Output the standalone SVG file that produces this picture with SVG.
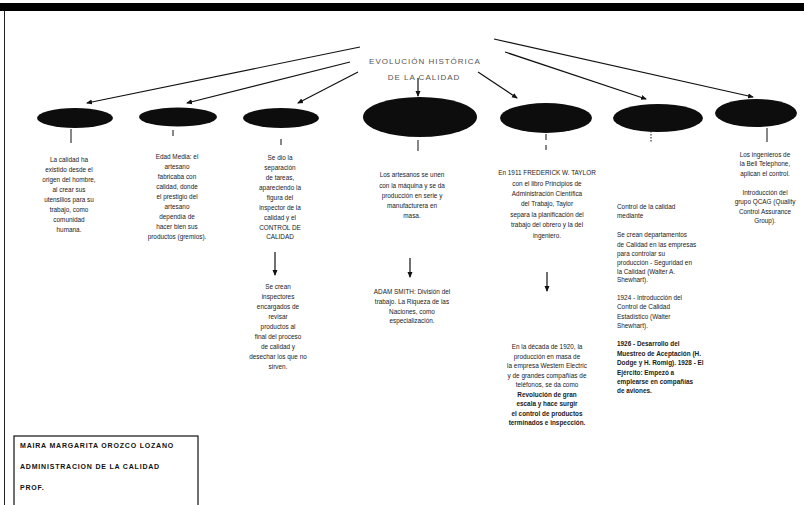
<svg xmlns="http://www.w3.org/2000/svg" width="804" height="505" viewBox="0 0 804 505">
<style>
.t{font-family:"Liberation Sans",Arial,sans-serif;font-size:6.4px;fill:#1a1a1a;text-anchor:middle}
.tl{font-family:"Liberation Sans",Arial,sans-serif;font-size:6.4px;fill:#1a1a1a}
.b{font-weight:bold}
.ti{font-family:"Liberation Sans",Arial,sans-serif;font-size:8px;fill:#555;text-anchor:middle;letter-spacing:1px}
.nm{font-family:"Liberation Sans",Arial,sans-serif;font-size:7px;font-weight:bold;fill:#111;letter-spacing:0.8px}
.el{fill:#0d0d0d}
.cn{stroke:#111;stroke-width:1.2;fill:none}
.tk{stroke:#111;stroke-width:1;fill:none}
</style>
<defs>
<marker id="ah" markerWidth="6" markerHeight="6" refX="5" refY="3" orient="auto" markerUnits="userSpaceOnUse">
<path d="M0,0.5 L6,3 L0,5.5 Z" fill="#111"/>
</marker>
</defs>
<rect width="804" height="505" fill="#fff"/>
<rect x="0" y="3" width="804" height="8" fill="#000"/>
<line x1="4.5" y1="11" x2="4.5" y2="505" stroke="#222" stroke-width="1"/>

<g id="title">
<text class="ti" x="425" y="64">EVOLUCIÓN HISTÓRICA</text>
<text class="ti" x="424" y="80" font-size="7">DE LA CALIDAD</text>
</g>

<g id="connectors">
<line class="cn" x1="360" y1="47" x2="87" y2="103" marker-end="url(#ah)"/>
<line class="cn" x1="350" y1="62" x2="187" y2="103" marker-end="url(#ah)"/>
<line class="cn" x1="358" y1="72" x2="298" y2="103" marker-end="url(#ah)"/>
<line class="cn" x1="418" y1="78" x2="418" y2="96" marker-end="url(#ah)"/>
<line class="cn" x1="478" y1="72" x2="517" y2="98" marker-end="url(#ah)"/>
<line class="cn" x1="505" y1="52" x2="646" y2="99" marker-end="url(#ah)"/>
<line class="cn" x1="494" y1="39" x2="753" y2="97" marker-end="url(#ah)"/>
<line class="tk" x1="71" y1="129" x2="71" y2="143"/>
<line class="tk" x1="173" y1="130" x2="173" y2="136"/>
<line class="tk" x1="281" y1="139" x2="281" y2="145"/>
<line class="tk" x1="418" y1="140" x2="418" y2="151"/>
<line class="tk" x1="546" y1="134" x2="546" y2="140"/>
<line class="tk" x1="546" y1="145" x2="546" y2="150"/>
<line class="tk" x1="651" y1="131" x2="651" y2="143" stroke-dasharray="1.5,1.5"/>
<line class="tk" x1="767" y1="128" x2="767" y2="142"/>
<line class="cn" x1="275" y1="252" x2="275" y2="275" marker-end="url(#ah)"/>
<line class="cn" x1="410" y1="258" x2="410" y2="277" marker-end="url(#ah)"/>
<line class="cn" x1="547" y1="272" x2="547" y2="291" marker-end="url(#ah)"/>
</g>

<g id="n1">
<ellipse class="el" cx="75" cy="118" rx="38" ry="10"/>
<text class="t" x="69" y="162"><tspan x="69">La calidad ha</tspan><tspan x="69" dy="10">existido desde el</tspan><tspan x="69" dy="10">origen del hombre,</tspan><tspan x="69" dy="10">al crear sus</tspan><tspan x="69" dy="10">utensilios para su</tspan><tspan x="69" dy="10">trabajo, como</tspan><tspan x="69" dy="10">comunidad</tspan><tspan x="69" dy="10">humana.</tspan></text>
</g>

<g id="n2">
<ellipse class="el" cx="178" cy="117" rx="39" ry="9.5"/>
<text class="t" x="177" y="159"><tspan x="177">Edad Media: el</tspan><tspan x="177" dy="10">artesano</tspan><tspan x="177" dy="10">fabricaba con</tspan><tspan x="177" dy="10">calidad, donde</tspan><tspan x="177" dy="10">el prestigio del</tspan><tspan x="177" dy="10">artesano</tspan><tspan x="177" dy="10">dependía de</tspan><tspan x="177" dy="10">hacer bien sus</tspan><tspan x="177" dy="10">productos (gremios).</tspan></text>
</g>

<g id="n3">
<ellipse class="el" cx="281" cy="118" rx="38" ry="10"/>
<text class="t" x="280" y="160"><tspan x="280">Se dio la</tspan><tspan x="280" dy="10">separación</tspan><tspan x="280" dy="10">de tareas,</tspan><tspan x="280" dy="10">apareciendo la</tspan><tspan x="280" dy="10">figura del</tspan><tspan x="280" dy="10">inspector de la</tspan><tspan x="280" dy="10">calidad y el</tspan><tspan x="280" dy="9.5">CONTROL DE</tspan><tspan x="280" dy="9">CALIDAD</tspan></text>
<text class="t" x="278" y="289"><tspan x="278">Se crean</tspan><tspan x="278" dy="10">inspectores</tspan><tspan x="278" dy="10">encargados de</tspan><tspan x="278" dy="10">revisar</tspan><tspan x="278" dy="10">productos al</tspan><tspan x="278" dy="10">final del proceso</tspan><tspan x="278" dy="10">de calidad y</tspan><tspan x="278" dy="10">desechar los que no</tspan><tspan x="278" dy="10">sirven.</tspan></text>
</g>

<g id="n4">
<ellipse class="el" cx="420" cy="117" rx="57" ry="20"/>
<text class="t" x="412" y="177"><tspan x="412">Los artesanos se unen</tspan><tspan x="412" dy="11">con la máquina y se da</tspan><tspan x="412" dy="10">producción en serie y</tspan><tspan x="412" dy="10">manufacturera en</tspan><tspan x="412" dy="10">masa.</tspan></text>
<text class="t" x="412" y="294"><tspan x="412">ADAM SMITH: División del</tspan><tspan x="412" dy="10">trabajo. La Riqueza de las</tspan><tspan x="412" dy="10">Naciones, como</tspan><tspan x="412" dy="9">especialización.</tspan></text>
</g>

<g id="n5">
<ellipse class="el" cx="546" cy="118" rx="46" ry="15"/>
<text class="t" x="547" y="175"><tspan x="547">En 1911 FREDERICK W. TAYLOR</tspan><tspan x="547" dy="11">con el libro Principios de</tspan><tspan x="547" dy="10">Administración Científica</tspan><tspan x="547" dy="10">del Trabajo, Taylor</tspan><tspan x="547" dy="11">separa la planificación del</tspan><tspan x="547" dy="10">trabajo del obrero y la del</tspan><tspan x="547" dy="11">ingeniero.</tspan></text>
<text class="t" x="547" y="349"><tspan x="547">En la década de 1920, la</tspan><tspan x="547" dy="9.5">producción en masa de</tspan><tspan x="547" dy="9.5">la empresa Western Electric</tspan><tspan x="547" dy="9.5">y de grandes compañías de</tspan><tspan x="547" dy="9.5">teléfonos, se da como</tspan><tspan x="547" dy="9.5" class="b">Revolución de gran</tspan><tspan x="547" dy="9.5" class="b">escala y hace surgir</tspan><tspan x="547" dy="9.5" class="b">el control de productos</tspan><tspan x="547" dy="9.5" class="b">terminados e inspección.</tspan></text>
</g>

<g id="n6">
<ellipse class="el" cx="658" cy="118" rx="45" ry="14"/>
<text class="tl" x="617" y="209"><tspan x="617">Control de la calidad</tspan><tspan x="617" dy="9">mediante</tspan><tspan x="617" dy="19">Se crean departamentos</tspan><tspan x="617" dy="10">de Calidad en las empresas</tspan><tspan x="617" dy="9">para controlar su</tspan><tspan x="617" dy="9">producción - Seguridad en</tspan><tspan x="617" dy="9">la Calidad (Walter A.</tspan><tspan x="617" dy="8">Shewhart).</tspan><tspan x="617" dy="18">1924 - Introducción del</tspan><tspan x="617" dy="9">Control de Calidad</tspan><tspan x="617" dy="10">Estadístico (Walter</tspan><tspan x="617" dy="9">Shewhart).</tspan><tspan x="617" dy="18" class="b">1926 - Desarrollo del</tspan><tspan x="617" dy="10" class="b">Muestreo de Aceptación (H.</tspan><tspan x="617" dy="9" class="b">Dodge y H. Romig). 1928 - El</tspan><tspan x="617" dy="10" class="b">Ejército: Empezó a</tspan><tspan x="617" dy="9" class="b">emplearse en compañías</tspan><tspan x="617" dy="9" class="b">de aviones.</tspan></text>
</g>

<g id="n7">
<ellipse class="el" cx="756" cy="113" rx="41" ry="14"/>
<text class="t" x="765" y="157" font-size="6"><tspan x="765">Los ingenieros de</tspan><tspan x="765" dy="9">la Bell Telephone,</tspan><tspan x="765" dy="10">aplican el control.</tspan><tspan x="765" dy="19">Introducción del</tspan><tspan x="765" dy="9">grupo QCAG (Quality</tspan><tspan x="765" dy="10">Control Assurance</tspan><tspan x="765" dy="9">Group).</tspan></text>
</g>

<g id="author">
<rect x="14" y="436" width="184" height="80" fill="none" stroke="#111" stroke-width="1.2"/>
<text class="nm" x="20" y="448">MAIRA MARGARITA OROZCO LOZANO</text>
<text class="nm" x="20" y="469">ADMINISTRACION DE LA CALIDAD</text>
<text class="nm" x="20" y="490">PROF.</text>
</g>
</svg>
